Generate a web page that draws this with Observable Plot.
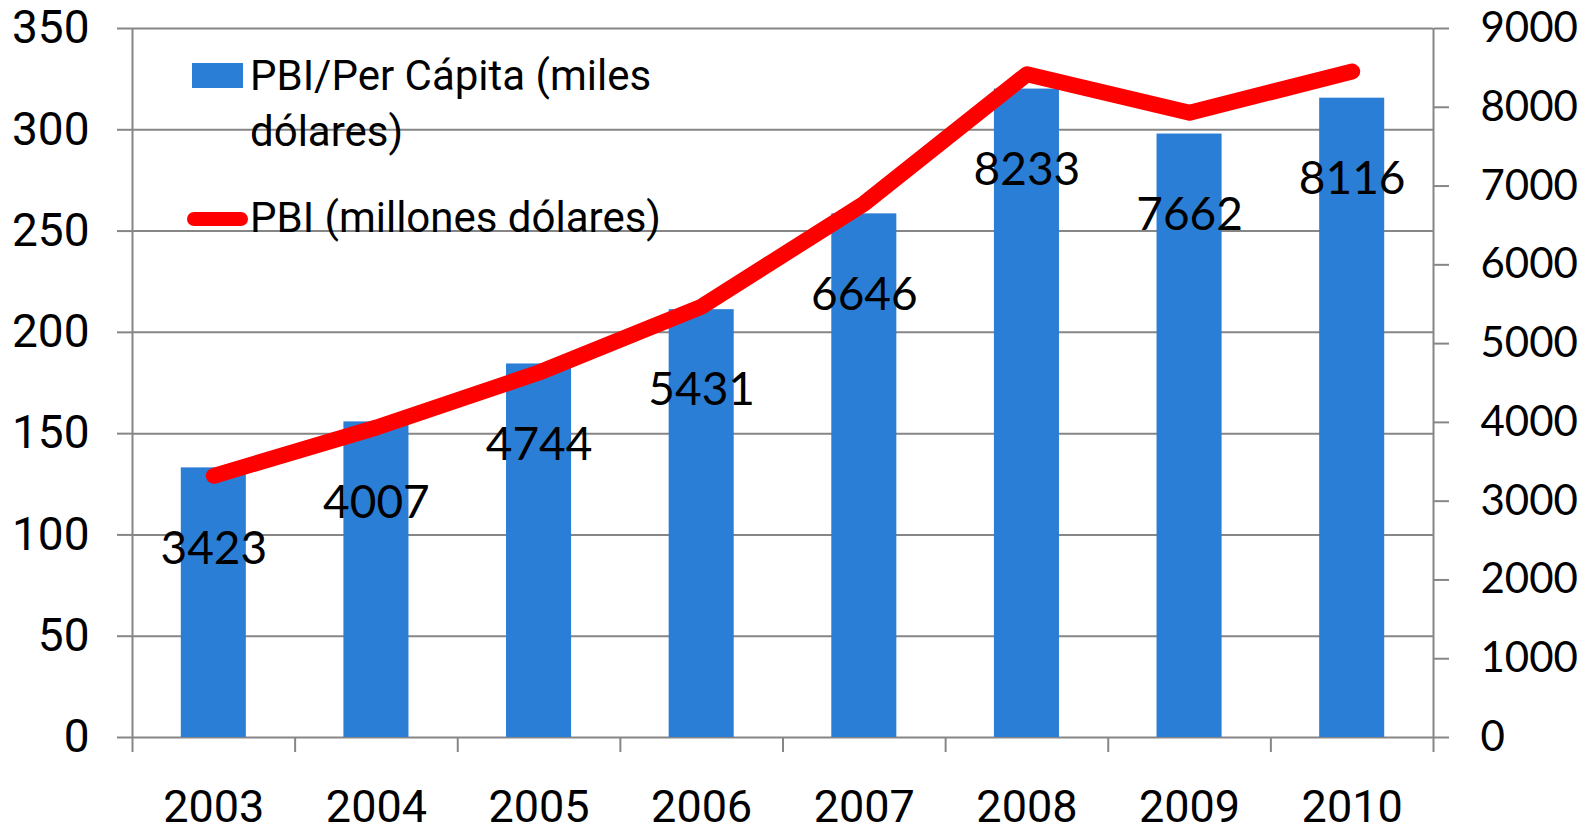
<!DOCTYPE html>
<html>
<head>
<meta charset="utf-8">
<script src="https://cdn.jsdelivr.net/npm/d3@7"></script>
<script src="https://cdn.jsdelivr.net/npm/@observablehq/plot@0.6"></script>
<style>
  html, body { margin: 0; padding: 0; background: #fff; }
  #wrap { position: relative; width: 1587px; height: 833px; overflow: hidden; }
  .lg { position: absolute; font-family: Roboto, "Liberation Sans", sans-serif; font-size: 42px; line-height: 56px; color: #000; white-space: nowrap; }
  .sw { position: absolute; }
</style>
</head>
<body>
<div id="wrap">
  <div class="sw" style="left:192px; top:63px; width:51px; height:25px; background:#2B7ED6;"></div>
  <div class="lg" id="lg1" style="left:250px; top:48px;"></div>
  <div class="sw" style="left:187px; top:212px; width:61px; height:14px; border-radius:7px; background:#FF0000;"></div>
  <div class="lg" id="lg2" style="left:250px; top:190px;"></div>
</div>
<script>
// ---- data ----
const years = [2003, 2004, 2005, 2006, 2007, 2008, 2009, 2010];
// bars, left axis (0–350)
const perCapita = [133.1, 155.8, 184.4, 211.2, 258.5, 320.1, 297.9, 315.6];
// line, right axis (0–9000)
const pbi = [3322, 3935, 4633, 5470, 6780, 8420, 7930, 8454];
// data labels as printed
const labels = ["3423", "4007", "4744", "5431", "6646", "8233", "7662", "8116"];
const leftTicks = [0, 50, 100, 150, 200, 250, 300, 350];
const rightTicks = [0, 1000, 2000, 3000, 4000, 5000, 6000, 7000, 8000, 9000];
const legendBars = ["PBI/Per Cápita (miles", "dólares)"];
const legendLine = "PBI (millones dólares)";

// ---- build ----
const LEFT_MAX = 350, RIGHT_MAX = 9000;
const toLeft = v => v * LEFT_MAX / RIGHT_MAX;
const data = years.map((y, i) => ({year: y, pc: perCapita[i], pbi: pbi[i], label: labels[i]}));
const boundaries = [years[0] - 0.5, ...years.map(y => y + 0.5)];

document.getElementById("lg1").innerHTML = legendBars.join("<br>");
document.getElementById("lg2").textContent = legendLine;

const gray = "#868686";
const chart = Plot.plot({
  width: 1587,
  height: 833,
  marginLeft: 132,
  marginRight: 154,
  marginTop: 28,
  marginBottom: 96,
  style: {fontFamily: "Roboto, 'Liberation Sans', sans-serif", fontSize: "46px", background: "transparent", color: "#000"},
  x: {type: "linear", domain: [boundaries[0], boundaries[boundaries.length - 1]]},
  y: {domain: [0, LEFT_MAX]},
  marks: [
    Plot.gridY(leftTicks, {stroke: gray, strokeOpacity: 1, strokeWidth: 2}),
    Plot.rectY(data, {x1: d => d.year - 0.2, x2: d => d.year + 0.2, y: "pc", fill: "#2B7ED6"}),
    Plot.line(data, {x: "year", y: d => toLeft(d.pbi), stroke: "#FF0000", strokeWidth: 16, strokeLinecap: "round", strokeLinejoin: "round"}),
    Plot.text(data, {x: "year", y: "pc", text: "label", dy: 81, fontSize: 46, fontFamily: "Lato, 'DejaVu Sans', sans-serif", fill: "#000"}),
    Plot.ruleX([boundaries[0], boundaries[boundaries.length - 1]], {y1: 0, y2: LEFT_MAX, stroke: gray, strokeWidth: 2}),
    Plot.axisY(leftTicks, {anchor: "left", tickSize: 15, tickPadding: 28, stroke: gray, strokeWidth: 2, fill: "#000", fontSize: 46, label: null}),
    Plot.axisY(rightTicks.map(toLeft), {anchor: "right", tickSize: 15, tickPadding: 32, stroke: gray, strokeWidth: 2, fill: "#000", fontSize: 42, fontFamily: "Lato, 'DejaVu Sans', sans-serif", tickFormat: d => String(Math.round(d * RIGHT_MAX / LEFT_MAX)), label: null}),
    Plot.axisX(boundaries, {tickSize: 15, stroke: gray, strokeWidth: 2, tickFormat: () => "", label: null}),
    Plot.axisX(years, {tickSize: 0, tickPadding: 53, fill: "#000", fontSize: 45, tickFormat: d => String(d), label: null})
  ]
});
chart.style.position = "absolute";
chart.style.left = "0px";
chart.style.top = "0px";
const wrap = document.getElementById("wrap");
wrap.insertBefore(chart, wrap.firstChild);
</script>
</body>
</html>
